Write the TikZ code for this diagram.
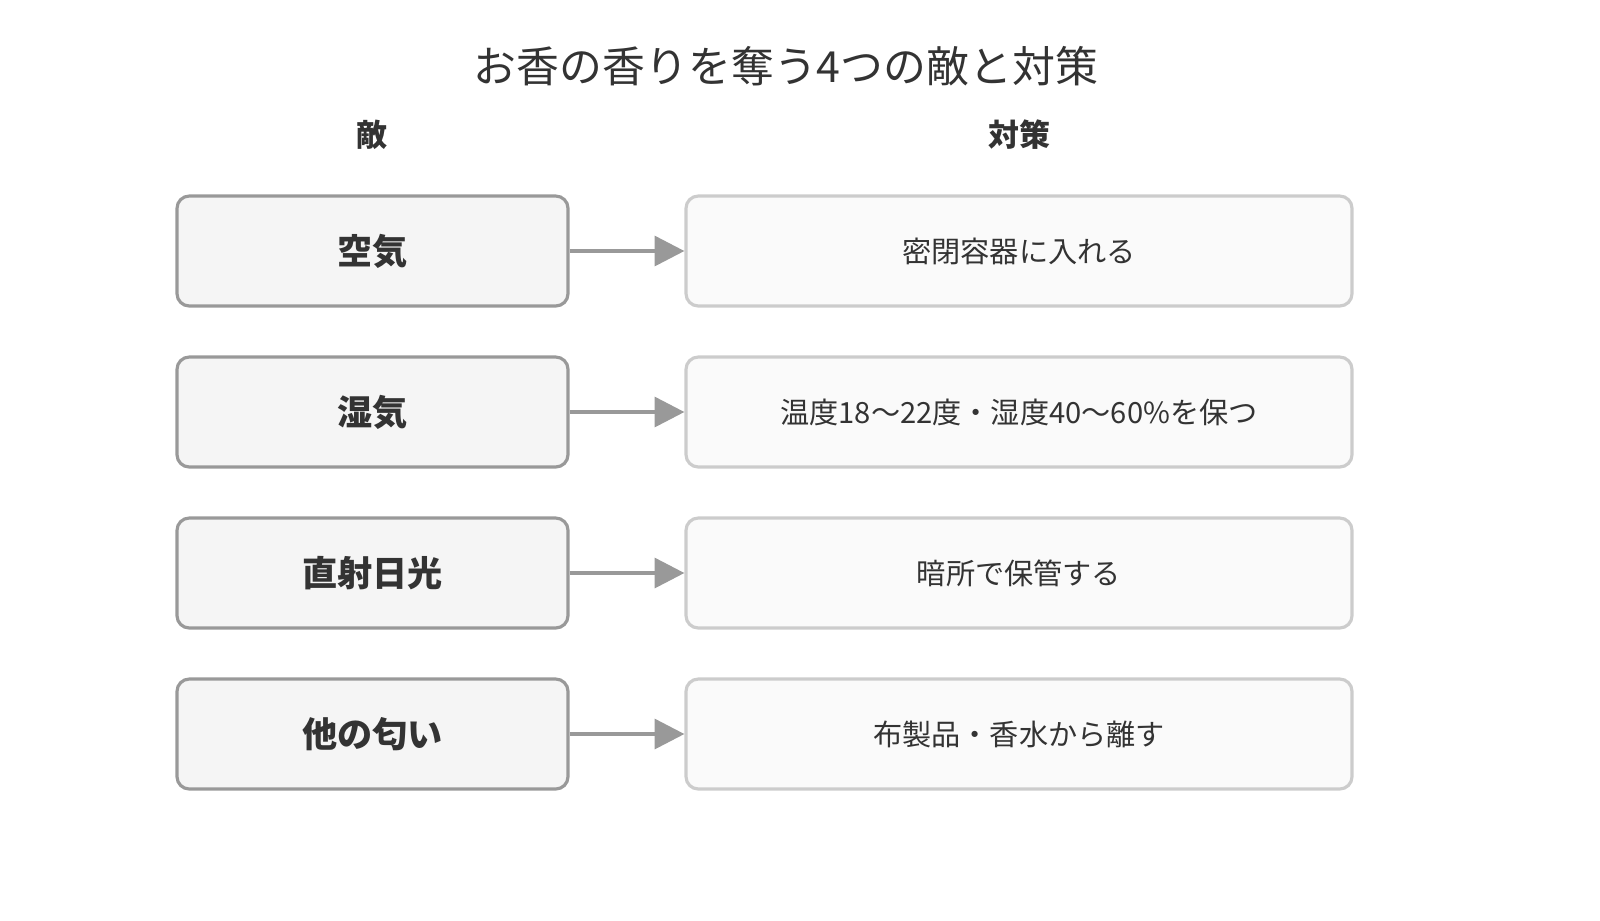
\documentclass[tikz,border=0pt]{standalone}
\usepackage{fontspec}
\setmainfont{Noto Sans CJK JP}
\usetikzlibrary{positioning,arrows.meta}
\definecolor{ink}{HTML}{333333}
\definecolor{enemyline}{HTML}{999999}
\definecolor{enemyfill}{HTML}{F5F5F5}
\definecolor{fixline}{HTML}{CCCCCC}
\definecolor{fixfill}{HTML}{FAFAFA}
\tikzset{
  enemy/.style={draw=enemyline, fill=enemyfill, line width=0.9pt, rounded corners=3.5pt,
    minimum width=3.91cm, minimum height=1.1cm, font=\fontsize{10}{12}\selectfont\bfseries, text=ink},
  fix/.style={draw=fixline, fill=fixfill, line width=0.9pt, rounded corners=3.5pt,
    minimum width=6.66cm, minimum height=1.1cm, font=\fontsize{8.3}{10}\selectfont, text=ink},
  link/.style={draw=enemyline, line width=1.1pt, -{Triangle[length=8.5pt,width=8.5pt]}},
  head/.style={font=\fontsize{8.8}{10}\selectfont\bfseries, text=ink}
}
\begin{document}
\begin{tikzpicture}
  \useasboundingbox (0,0) rectangle (16,-9.2);
  % Title and column heads
  \node[font=\fontsize{12.2}{14}\selectfont, text=ink] (title) at (7.86,-0.66) {お香の香りを奪う4つの敵と対策};
  \node[head] (hEnemy) at (3.72,-1.35) {敵};
  \node[head] (hFix) at (10.19,-1.35) {対策};

  % Rows
  \node[enemy] (e1) at (3.725,-2.51) {空気};
  \node[enemy] (e2) at (3.725,-4.12) {湿気};
  \node[enemy] (e3) at (3.725,-5.73) {直射日光};
  \node[enemy] (e4) at (3.725,-7.34) {他の匂い};

  \node[fix] (f1) at (10.19,-2.51) {密閉容器に入れる};
  \node[fix] (f2) at (10.19,-4.12) {温度18〜22度・湿度40〜60\%を保つ};
  \node[fix] (f3) at (10.19,-5.73) {暗所で保管する};
  \node[fix] (f4) at (10.19,-7.34) {布製品・香水から離す};

  % Arrows
  \foreach \i in {1,...,4}
    \draw[link] (e\i) -- (f\i);
\end{tikzpicture}
\end{document}
